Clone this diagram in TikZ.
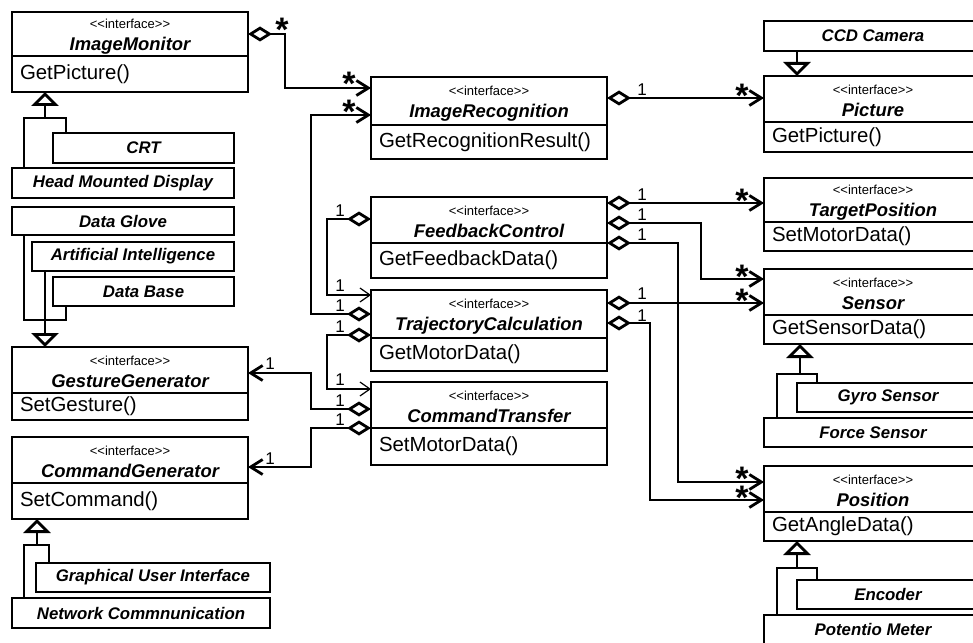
\documentclass[tikz,border=0pt]{standalone}
\usepackage{fontspec}
\newfontfamily\umlfont{Liberation Sans}
\usetikzlibrary{arrows.meta}

\newcommand{\namefont}{\umlfont\fontsize{9.2}{11}\selectfont\bfseries\itshape}
\newcommand{\stereofont}{\umlfont\fontsize{6.5}{7}\selectfont\mdseries\upshape}
\newcommand{\opfont}{\umlfont\fontsize{10.2}{12}\selectfont}
\newcommand{\subfont}{\umlfont\fontsize{8.4}{10}\selectfont\bfseries\itshape}
\newcommand{\onefont}{\umlfont\fontsize{8.5}{9}\selectfont}
\newcommand{\starfont}{\umlfont\fontsize{17}{17}\selectfont\bfseries}
\newcommand{\iface}[1]{{\stereofont\rule{0pt}{7pt}<\kern0pt<interface>\kern0pt>}\\#1}

\begin{document}
\begin{tikzpicture}[x=0.5pt,y=-0.5pt,line width=1.4pt,
  box/.style={draw, fill=white, anchor=north west, inner sep=0pt, outer sep=0pt},
  head/.style={box, align=center, font=\namefont},
  oper/.style={box, font=\opfont, align=left, inner xsep=4pt, text width=#1},
  sub/.style={box, font=\subfont},
  one/.style={font=\onefont, inner sep=0pt},
  many/.style={font=\starfont, inner sep=0pt, anchor=base},
  agg/.style={{Diamond[open,length=12pt,width=7.5pt]}-{Straight Barb[length=6pt,width=7.5pt]}},
  aggthin/.style={{Diamond[open,length=12pt,width=7.5pt]}-{Straight Barb[length=5pt,width=7pt,line width=0.6pt]}},
  gen/.style={-{Triangle[open,length=7pt,width=13.5pt]}}]
  \useasboundingbox (0,0) rectangle (973,642);
  \clip (0,0) rectangle (973,642);

  % left column
  \node[head, minimum width=118pt, minimum height=22pt] (imgmon) at (12,12) {\iface{ImageMonitor}};
  \node[oper=110pt, minimum height=18pt] (imgmon-op) at (imgmon.south west) {GetPicture()};
  \node[sub, minimum width=90.5pt, minimum height=15pt] (crt) at (53,133) {CRT};
  \node[sub, minimum width=111pt, minimum height=15pt] (hmd) at (12,168) {Head Mounted Display};
  \node[sub, minimum width=111pt, minimum height=14pt] (glove) at (12,207) {Data Glove};
  \node[sub, minimum width=101pt, minimum height=14.5pt] (ai) at (32,242) {Artificial Intelligence};
  \node[sub, minimum width=90.5pt, minimum height=14.5pt] (dbase) at (53,277) {Data Base};
  \node[head, minimum width=118pt, minimum height=23pt] (gg) at (12,347) {\iface{GestureGenerator}};
  \node[oper=110pt, minimum height=13.5pt] (gg-op) at (gg.south west) {SetGesture()};
  \node[head, minimum width=118pt, minimum height=23pt] (cg) at (12,437) {\iface{CommandGenerator}};
  \node[oper=110pt, minimum height=18pt] (cg-op) at (cg.south west) {SetCommand()};
  \node[sub, minimum width=117pt, minimum height=14.5pt] (gui) at (36,563) {Graphical User Interface};
  \node[sub, minimum width=129pt, minimum height=15pt] (nc) at (12,598) {Network Commnunication};

  % middle column
  \node[head, minimum width=118pt, minimum height=24pt] (imgrec) at (371,77) {\iface{ImageRecognition}};
  \node[oper=110pt, minimum height=17pt] (imgrec-op) at (imgrec.south west) {GetRecognitionResult()};
  \node[head, minimum width=118pt, minimum height=23pt] (fc) at (371,197) {\iface{FeedbackControl}};
  \node[oper=110pt, minimum height=17.5pt] (fc-op) at (fc.south west) {GetFeedbackData()};
  \node[head, minimum width=118pt, minimum height=24pt] (tc) at (371,290) {\iface{TrajectoryCalculation}};
  \node[oper=110pt, minimum height=16.5pt] (tc-op) at (tc.south west) {GetMotorData()};
  \node[head, minimum width=118pt, minimum height=23pt] (ct) at (371,382) {\iface{CommandTransfer}};
  \node[oper=110pt, minimum height=18.5pt] (ct-op) at (ct.south west) {SetMotorData()};

  % right column
  \node[sub, minimum width=109pt, minimum height=15pt] (ccd) at (764,21) {CCD Camera};
  \node[head, minimum width=109pt, minimum height=23pt] (pic) at (764,76) {\iface{Picture}};
  \node[oper=101pt, minimum height=15pt] (pic-op) at (pic.south west) {GetPicture()};
  \node[head, minimum width=109pt, minimum height=22pt] (tp) at (764,178) {\iface{TargetPosition}};
  \node[oper=101pt, minimum height=14.5pt] (tp-op) at (tp.south west) {SetMotorData()};
  \node[head, minimum width=109pt, minimum height=23pt] (sens) at (764,269) {\iface{Sensor}};
  \node[oper=101pt, minimum height=14.5pt] (sens-op) at (sens.south west) {GetSensorData()};
  \node[sub, minimum width=91pt, minimum height=14.5pt] (gyro) at (797,383) {Gyro Sensor};
  \node[sub, minimum width=109pt, minimum height=14.5pt] (force) at (764,418) {Force Sensor};
  \node[head, minimum width=109pt, minimum height=23pt] (pos) at (764,466) {\iface{Position}};
  \node[oper=101pt, minimum height=14.5pt] (pos-op) at (pos.south west) {GetAngleData()};
  \node[sub, minimum width=91pt, minimum height=14.5pt] (enc) at (797,580) {Encoder};
  \node[sub, minimum width=109pt, minimum height=14.5pt] (pot) at (764,615) {Potentio Meter};

  % generalisations
  \draw[gen] (crt.north -| 66,0) |- (45,118) -- (imgmon-op.south -| 45,0);
  \draw (hmd.north -| 24,0) |- (45,118);
  \draw (glove.south -| 24,0) -- (24,320) -| (dbase.south -| 66,0);
  \draw[gen] (ai.south -| 45,0) -- (gg.north -| 45,0);
  \draw[gen] (gui.north -| 49,0) |- (37,545) -- (cg-op.south -| 37,0);
  \draw (nc.north -| 24,0) |- (37,545);
  \draw[gen] (ccd.south -| 797,0) -- (pic.north -| 797,0);
  \draw[gen] (gyro.north -| 817,0) |- (800,374) -- (sens-op.south -| 800,0);
  \draw (force.north -| 777,0) |- (800,374);
  \draw[gen] (enc.north -| 817,0) |- (797,568) -- (pos-op.south -| 797,0);
  \draw (pot.north -| 777,0) |- (797,568);

  % aggregations
  \draw[agg] (imgmon.east) -| (285,88) -- (imgrec.west |- 0,88);
  \draw[agg] (tc.west |- 0,314) -| (311,115) -- (imgrec.west |- 0,115);
  \draw[agg] (imgrec.east |- 0,98) -- (pic.west |- 0,98);
  \draw[agg] (fc.east |- 0,203) -- (tp.west |- 0,203);
  \draw[agg] (fc.east |- 0,223) -| (701,279) -- (sens.west |- 0,279);
  \draw[agg] (fc.east |- 0,243) -| (678,482) -- (pos.west |- 0,482);
  \draw[agg] (tc.east |- 0,303) -- (sens.west |- 0,303);
  \draw[agg] (tc.east |- 0,323) -| (650,500) -- (pos.west |- 0,500);
  \draw[aggthin] (fc.west |- 0,219) -| (327,295) -- (tc.west |- 0,295);
  \draw[aggthin] (tc.west |- 0,335) -| (327,389) -- (ct.west |- 0,389);
  \draw[agg] (ct.west |- 0,409) -| (311,373) -- (gg.east |- 0,373);
  \draw[agg] (ct.west |- 0,428) -| (311,467) -- (cg.east |- 0,467);

  % multiplicities
  \foreach \x/\y [count=\i] in {642/90, 642/195, 642/215, 642/235, 642/294, 642/316,
      340/211, 340/286, 340/306, 340/327, 340/380, 340/401, 340/420, 270/364, 270/459}
    \node[one] (one\i) at (\x,\y) {1};
  \foreach \x/\y [count=\i] in {282/26, 349/80, 349/108, 742/91, 742/196, 742/272,
      742/296, 742/474, 742/493}
    \node[many] (many\i) at (\x,\y+16) {*};
\end{tikzpicture}
\end{document}
